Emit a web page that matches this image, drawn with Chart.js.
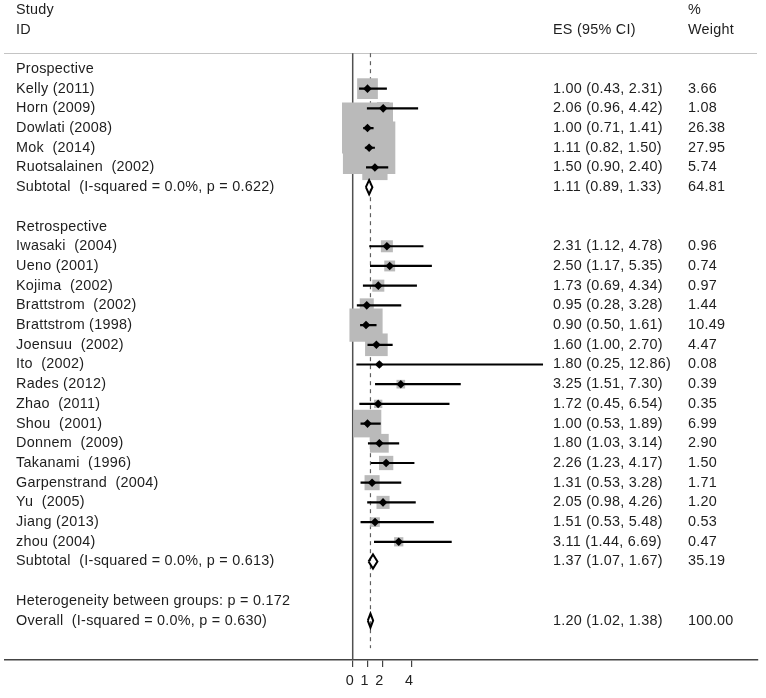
<!DOCTYPE html>
<html>
<head>
<meta charset="utf-8">
<script src="https://cdn.jsdelivr.net/npm/chart.js@4.4.1/dist/chart.umd.min.js"></script>
<style>
  html, body { margin: 0; padding: 0; background: #fff; }
  #wrap { width: 766px; height: 698px; }
</style>
</head>
<body>
<div id="wrap"><canvas id="forest" width="766" height="698"></canvas></div>
<script>
// study data
const prospStudies = ['Kelly (2011)', 'Horn (2009)', 'Dowlati (2008)', 'Mok  (2014)', 'Ruotsalainen  (2002)'];
const prospES = [1.00, 2.06, 1.00, 1.11, 1.50];
const prospLo = [0.43, 0.96, 0.71, 0.82, 0.90];
const prospHi = [2.31, 4.42, 1.41, 1.50, 2.40];
const prospW = [3.66, 1.08, 26.38, 27.95, 5.74];

const retroStudies = ['Iwasaki  (2004)', 'Ueno (2001)', 'Kojima  (2002)', 'Brattstrom  (2002)', 'Brattstrom (1998)',
  'Joensuu  (2002)', 'Ito  (2002)', 'Rades (2012)', 'Zhao  (2011)', 'Shou  (2001)', 'Donnem  (2009)',
  'Takanami  (1996)', 'Garpenstrand  (2004)', 'Yu  (2005)', 'Jiang (2013)', 'zhou (2004)'];
const retroES = [2.31, 2.50, 1.73, 0.95, 0.90, 1.60, 1.80, 3.25, 1.72, 1.00, 1.80, 2.26, 1.31, 2.05, 1.51, 3.11];
const retroLo = [1.12, 1.17, 0.69, 0.28, 0.50, 1.00, 0.25, 1.51, 0.45, 0.53, 1.03, 1.23, 0.53, 0.98, 0.53, 1.44];
const retroHi = [4.78, 5.35, 4.34, 3.28, 1.61, 2.70, 12.86, 7.30, 6.54, 1.89, 3.14, 4.17, 3.28, 4.26, 5.48, 6.69];
const retroW = [0.96, 0.74, 0.97, 1.44, 10.49, 4.47, 0.08, 0.39, 0.35, 6.99, 2.90, 1.50, 1.71, 1.20, 0.53, 0.47];

const groupNames = ['Prospective', 'Retrospective'];
const subtotalText = ['Subtotal  (I-squared = 0.0%, p = 0.622)', 'Subtotal  (I-squared = 0.0%, p = 0.613)'];
const subtotalES = [1.11, 1.37];
const subtotalLo = [0.89, 1.07];
const subtotalHi = [1.33, 1.67];
const subtotalW = [64.81, 35.19];

const heterogeneityText = 'Heterogeneity between groups: p = 0.172';
const overallText = 'Overall  (I-squared = 0.0%, p = 0.630)';
const overallES = 1.20;
const overallLo = 1.02;
const overallHi = 1.38;
const overallW = 100.00;

const xTicks = [0, 1, 2, 4];

// ---- layout (rows go down the page, one unit per text line)
const FONT = "14.4px 'Liberation Sans', Arial, sans-serif";
const TEXT_COLOR = '#1e1e1e';
const COL_STUDY = 16, COL_ES = 553, COL_W = 688;
const LINE_TOP = -0.8, DASH_BOTTOM = 29.4;
const DIAMOND_H = 0.36;

// build row list
const rows = [];
let r = 0;
const groups = [
  { studies: prospStudies, es: prospES, lo: prospLo, hi: prospHi, w: prospW },
  { studies: retroStudies, es: retroES, lo: retroLo, hi: retroHi, w: retroW },
];
groups.forEach((g, gi) => {
  rows.push({ row: r++, label: groupNames[gi] });
  g.studies.forEach((name, i) => {
    rows.push({ row: r++, label: name, es: g.es[i], lo: g.lo[i], hi: g.hi[i], w: g.w[i], kind: 'study' });
  });
  rows.push({ row: r++, label: subtotalText[gi], es: subtotalES[gi], lo: subtotalLo[gi], hi: subtotalHi[gi], w: subtotalW[gi], kind: 'pooled' });
  r++; // blank line
});
rows.push({ row: r++, label: heterogeneityText });
rows.push({ row: r++, label: overallText, es: overallES, lo: overallLo, hi: overallHi, w: overallW, kind: 'pooled' });

const studyRows = rows.filter(d => d.kind === 'study');
const pooledRows = rows.filter(d => d.kind === 'pooled');

// box side grows with sqrt(weight); 'rect' radius -> side is radius*sqrt2
const boxRadius = studyRows.map(d => (2.8 + 9.38 * Math.sqrt(d.w)) / Math.SQRT2);

const ciData = [];
studyRows.forEach(d => {
  ciData.push({ x: d.lo, y: d.row }, { x: d.hi, y: d.row }, { x: null, y: null });
});

const diamondData = [];
pooledRows.forEach(d => {
  diamondData.push(
    { x: d.lo, y: d.row }, { x: d.es, y: d.row - DIAMOND_H },
    { x: d.hi, y: d.row }, { x: d.es, y: d.row + DIAMOND_H },
    { x: d.lo, y: d.row }, { x: null, y: null });
});

const textPlugin = {
  id: 'forestText',
  beforeDatasetsDraw(chart) {
    const { ctx } = chart;
    const y = chart.scales.y;
    ctx.save();
    ctx.strokeStyle = '#c4c4c4';
    ctx.lineWidth = 1.2;
    ctx.beginPath();
    ctx.moveTo(4, Math.round(y.getPixelForValue(-0.82)) + 0.5);
    ctx.lineTo(757, Math.round(y.getPixelForValue(-0.82)) + 0.5);
    ctx.stroke();
    ctx.restore();
  },
  afterDraw(chart) {
    const { ctx } = chart;
    const y = chart.scales.y;
    ctx.save();
    ctx.font = FONT;
    ctx.letterSpacing = '0.25px';
    ctx.fillStyle = TEXT_COLOR;
    ctx.textBaseline = 'middle';
    ctx.textAlign = 'left';
    ctx.fillText('Study', COL_STUDY, y.getPixelForValue(-3));
    ctx.fillText('ID', COL_STUDY, y.getPixelForValue(-2));
    ctx.fillText('ES (95% CI)', COL_ES, y.getPixelForValue(-2));
    ctx.fillText('%', COL_W, y.getPixelForValue(-3));
    ctx.fillText('Weight', COL_W, y.getPixelForValue(-2));
    rows.forEach(d => {
      const py = y.getPixelForValue(d.row);
      ctx.fillText(d.label, COL_STUDY, py);
      if (d.es !== undefined) {
        ctx.fillText(d.es.toFixed(2) + ' (' + d.lo.toFixed(2) + ', ' + d.hi.toFixed(2) + ')', COL_ES, py);
        ctx.fillText(d.w.toFixed(2), COL_W, py);
      }
    });
    ctx.restore();
  }
};

new Chart(document.getElementById('forest'), {
  type: 'scatter',
  plugins: [textPlugin],
  data: {
    datasets: [
      {
        // null line
        data: [{ x: 0, y: LINE_TOP }, { x: 0, y: 30 }],
        showLine: true, borderColor: '#505050', borderWidth: 1.5, pointRadius: 0, order: 10,
      },
      {
        // overall effect
        data: [{ x: overallES, y: LINE_TOP }, { x: overallES, y: DASH_BOTTOM }],
        showLine: true, borderColor: '#606060', borderWidth: 1.2, borderDash: [4, 4], pointRadius: 0, order: 9,
      },
      {
        // weight boxes
        data: studyRows.map(d => ({ x: d.es, y: d.row })),
        pointStyle: 'rect', pointRadius: boxRadius, backgroundColor: '#bababa', borderWidth: 0, order: 5,
      },
      {
        data: ciData,
        showLine: true, spanGaps: false, borderColor: '#000', borderWidth: 2.2, pointRadius: 0, order: 4,
      },
      {
        data: studyRows.map(d => ({ x: d.es, y: d.row })),
        pointStyle: 'rectRot', pointRadius: 4.3, backgroundColor: '#000', borderWidth: 0, order: 2,
      },
      {
        data: diamondData,
        showLine: true, spanGaps: false, borderColor: '#000', borderWidth: 2, pointRadius: 0, order: 1,
      },
    ]
  },
  options: {
    responsive: false,
    animation: false,
    layout: { autoPadding: false, padding: { left: 5, right: 8, top: 0, bottom: 0 } },
    plugins: { legend: { display: false }, tooltip: { enabled: false } },
    scales: {
      x: {
        type: 'linear',
        min: -347.7 / 14.8,
        max: -347.7 / 14.8 + 753 / 14.8,
        afterBuildTicks: s => { s.ticks = xTicks.map(v => ({ value: v })); },
        afterFit: s => { s.height = 38; },
        ticks: {
          autoSkip: false, maxRotation: 0, padding: 5, labelOffset: -3,
          color: '#222', font: { family: "'Liberation Sans', Arial, sans-serif", size: 14.4 },
        },
        grid: { drawOnChartArea: false, drawTicks: true, tickLength: 7, color: '#444', lineWidth: 1.2 },
        border: { display: true, color: '#444', width: 1.5 },
      },
      y: {
        type: 'linear', reverse: true, min: -3.5, max: 30, display: false,
      }
    }
  }
});
</script>
</body>
</html>
